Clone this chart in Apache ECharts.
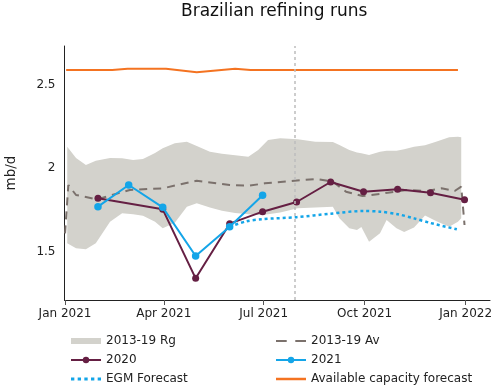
<!DOCTYPE html>
<html>
<head>
<meta charset="utf-8">
<script src="https://cdn.jsdelivr.net/npm/echarts@6/dist/echarts.min.js"></script>
<style>html,body{margin:0;padding:0;background:#fff}#c{width:501px;height:389px}</style>
</head>
<body>
<div id="c"></div>
<script>
// ---- data ----
const rgDates = ['2021-01-03','2021-01-11','2021-01-20','2021-01-29','2021-02-11','2021-02-22','2021-03-04','2021-03-13','2021-03-24','2021-03-31','2021-04-11','2021-04-22','2021-05-01','2021-05-13','2021-05-24','2021-06-05','2021-06-17','2021-06-26','2021-07-05','2021-07-16','2021-08-01','2021-08-17','2021-09-02','2021-09-08','2021-09-17','2021-09-24','2021-09-28','2021-10-05','2021-10-15','2021-10-21','2021-10-30','2021-11-06','2021-11-15','2021-11-25','2021-12-05','2021-12-17','2021-12-25','2021-12-28'];
const rgHigh = [2.13,2.062,2.02,2.045,2.062,2.06,2.05,2.056,2.092,2.12,2.15,2.16,2.134,2.10,2.087,2.078,2.07,2.11,2.17,2.18,2.175,2.16,2.158,2.14,2.11,2.095,2.09,2.08,2.10,2.105,2.106,2.115,2.13,2.138,2.16,2.186,2.19,2.186];
const rgLow = [1.55,1.52,1.514,1.55,1.68,1.73,1.725,1.716,1.68,1.64,1.674,1.77,1.79,1.765,1.745,1.732,1.725,1.72,1.725,1.735,1.76,1.765,1.77,1.70,1.64,1.63,1.648,1.56,1.61,1.69,1.64,1.618,1.645,1.717,1.684,1.65,1.68,1.70];

const avgDates = ['2021-01-01','2021-01-04','2021-01-11','2021-01-30','2021-03-01','2021-03-31','2021-05-01','2021-05-31','2021-06-18','2021-07-02','2021-07-29','2021-08-18','2021-09-02','2021-09-14','2021-09-29','2021-10-15','2021-10-22','2021-11-09','2021-11-27','2021-12-10','2021-12-22','2021-12-28','2021-12-31'];
const avgValues = [1.61,1.90,1.84,1.814,1.87,1.88,1.926,1.90,1.896,1.91,1.926,1.936,1.92,1.86,1.834,1.846,1.854,1.87,1.864,1.88,1.864,1.89,1.66];

const y2020Dates = ['2021-01-31','2021-03-31','2021-04-30','2021-05-31','2021-06-30','2021-07-31','2021-08-31','2021-09-30','2021-10-31','2021-11-30','2021-12-31'];
const y2020Values = [1.82,1.754,1.34,1.668,1.74,1.798,1.918,1.86,1.874,1.854,1.812];

const y2021Dates = ['2021-01-31','2021-02-28','2021-03-31','2021-04-30','2021-05-31','2021-06-30'];
const y2021Values = [1.77,1.90,1.766,1.474,1.65,1.838];

const egmDates = ['2021-05-31','2021-06-15','2021-06-30','2021-07-31','2021-08-31','2021-09-30','2021-10-15','2021-10-31','2021-11-15','2021-11-30','2021-12-24'];
const egmValues = [1.65,1.682,1.695,1.707,1.728,1.744,1.74,1.725,1.70,1.672,1.634];

const capDates = ['2021-01-02','2021-02-13','2021-02-27','2021-04-03','2021-05-01','2021-06-05','2021-06-19','2021-12-25'];
const capValues = [2.59,2.59,2.598,2.598,2.576,2.597,2.59,2.59];

const xTickDates = ['2021-01-01','2021-04-01','2021-07-01','2021-10-01','2022-01-01'];
const xTickLabels = ['Jan 2021','Apr 2021','Jul 2021','Oct 2021','Jan 2022'];
const yTicks = [1.5, 2, 2.5];
const markerDate = '2021-07-29';

// ---- helpers ----
function t(s){ const p = s.split('-').map(Number); return new Date(p[0], p[1]-1, p[2]).getTime(); }
const pairs = (ds, vs) => ds.map((d, i) => [t(d), vs[i]]);
const xTicks = xTickDates.map(t);
const bandData = rgDates.map((d, i) => [t(d), rgLow[i], rgHigh[i]]);

const FONT = 'DejaVu Sans';
const TXT = '#222';
const BAND = '#d3d2cc', AVG = '#7b716c', C2020 = '#651f43', C2021 = '#14a5e8', ORANGE = '#f47321';

const chart = echarts.init(document.getElementById('c'), null, {renderer: 'canvas'});
chart.setOption({
  animation: false,
  backgroundColor: '#fff',
  textStyle: {fontFamily: FONT},
  title: {
    text: 'Brazilian refining runs', left: 181, top: 3, padding: 0,
    textStyle: {fontFamily: FONT, fontSize: 17, fontWeight: 'normal', color: '#111'}
  },
  grid: {left: 64.5, right: 11, top: 46, bottom: 89, containLabel: false, outerBoundsMode: 'none'},
  xAxis: {
    type: 'value',
    min: new Date(2020, 11, 31, 12).getTime(),
    max: new Date(2022, 0, 23, 5).getTime(),
    axisLine: {show: true, onZero: false, lineStyle: {color: '#222', width: 1}},
    axisTick: {show: true, length: 5, customValues: xTicks, lineStyle: {color: '#555'}},
    axisLabel: {
      customValues: xTicks, margin: 8, color: TXT, fontFamily: FONT, fontSize: 12,
      formatter: v => { const i = xTicks.indexOf(v); return i >= 0 ? xTickLabels[i] : ''; }
    },
    splitLine: {show: false}
  },
  yAxis: {
    type: 'value', min: 1.21, max: 2.734,
    name: 'mb/d', nameLocation: 'middle', nameGap: 46,
    nameTextStyle: {fontFamily: FONT, fontSize: 13.5, color: TXT},
    axisLine: {show: true, onZero: false, lineStyle: {color: '#222', width: 1}},
    axisTick: {show: false},
    axisLabel: {customValues: yTicks, margin: 9, color: TXT, fontFamily: FONT, fontSize: 12},
    splitLine: {show: false}
  },
  legend: [
    {
      orient: 'vertical', left: 70, top: 335, padding: 0, itemGap: 7, itemWidth: 30, itemHeight: 8,
      selectedMode: false, textStyle: {fontFamily: FONT, fontSize: 12, color: TXT},
      itemStyle: {borderWidth: 0},
      data: [
        {name: '2013-19 Rg', icon: 'path://M0,0h30v6h-30z', itemStyle: {color: BAND}},
        {name: '2020'},
        {name: 'EGM Forecast', icon: 'path://M0,0h3v2.5h-3z M6,0h3v2.5h-3z M12,0h3v2.5h-3z M18,0h3v2.5h-3z M24,0h3v2.5h-3z', itemStyle: {color: C2021}}
      ]
    },
    {
      orient: 'vertical', left: 275, top: 335, padding: 0, itemGap: 7, itemWidth: 30, itemHeight: 8,
      selectedMode: false, textStyle: {fontFamily: FONT, fontSize: 12, color: TXT},
      itemStyle: {borderWidth: 0},
      data: [
        {name: '2013-19 Av', icon: 'path://M0,0h10v2h-10z M18,0h10v2h-10z', itemStyle: {color: AVG}},
        {name: '2021'},
        {name: 'Available capacity forecast', icon: 'path://M0,0h30v2.5h-30z', itemStyle: {color: ORANGE}}
      ]
    }
  ],
  series: [
    {
      name: '2013-19 Rg', type: 'custom', data: bandData, clip: true, silent: true, z: 1,
      itemStyle: {color: BAND},
      encode: {x: 0, y: [1, 2]},
      renderItem: (params, api) => {
        if (params.dataIndex !== 0) return null;
        const top = bandData.map(d => api.coord([d[0], d[2]]));
        const bot = bandData.map(d => api.coord([d[0], d[1]])).reverse();
        return {type: 'polygon', shape: {points: top.concat(bot)}, style: {fill: BAND}};
      },
      markLine: {
        silent: true, symbol: 'none', label: {show: false},
        lineStyle: {color: '#bdbdbd', type: [3, 3], width: 1.5},
        data: [{xAxis: t(markerDate)}]
      }
    },
    {
      name: '2013-19 Av', type: 'line', data: pairs(avgDates, avgValues), symbol: 'none',
      lineStyle: {color: AVG, width: 2, type: [8, 6]}, itemStyle: {color: AVG}, z: 2
    },
    {
      name: '2020', type: 'line', data: pairs(y2020Dates, y2020Values),
      symbol: 'circle', symbolSize: 7, showSymbol: true,
      lineStyle: {color: C2020, width: 2}, itemStyle: {color: C2020}, z: 3
    },
    {
      name: '2021', type: 'line', data: pairs(y2021Dates, y2021Values),
      symbol: 'circle', symbolSize: 7.5, showSymbol: true,
      lineStyle: {color: C2021, width: 2}, itemStyle: {color: C2021}, z: 4
    },
    {
      name: 'EGM Forecast', type: 'line', data: pairs(egmDates, egmValues), symbol: 'none', smooth: 0.3,
      lineStyle: {color: C2021, width: 2.5, type: [3, 3]}, itemStyle: {color: C2021}, z: 3
    },
    {
      name: 'Available capacity forecast', type: 'line', data: pairs(capDates, capValues), symbol: 'none',
      lineStyle: {color: ORANGE, width: 2}, itemStyle: {color: ORANGE}, z: 3
    }
  ]
});
</script>
</body>
</html>
